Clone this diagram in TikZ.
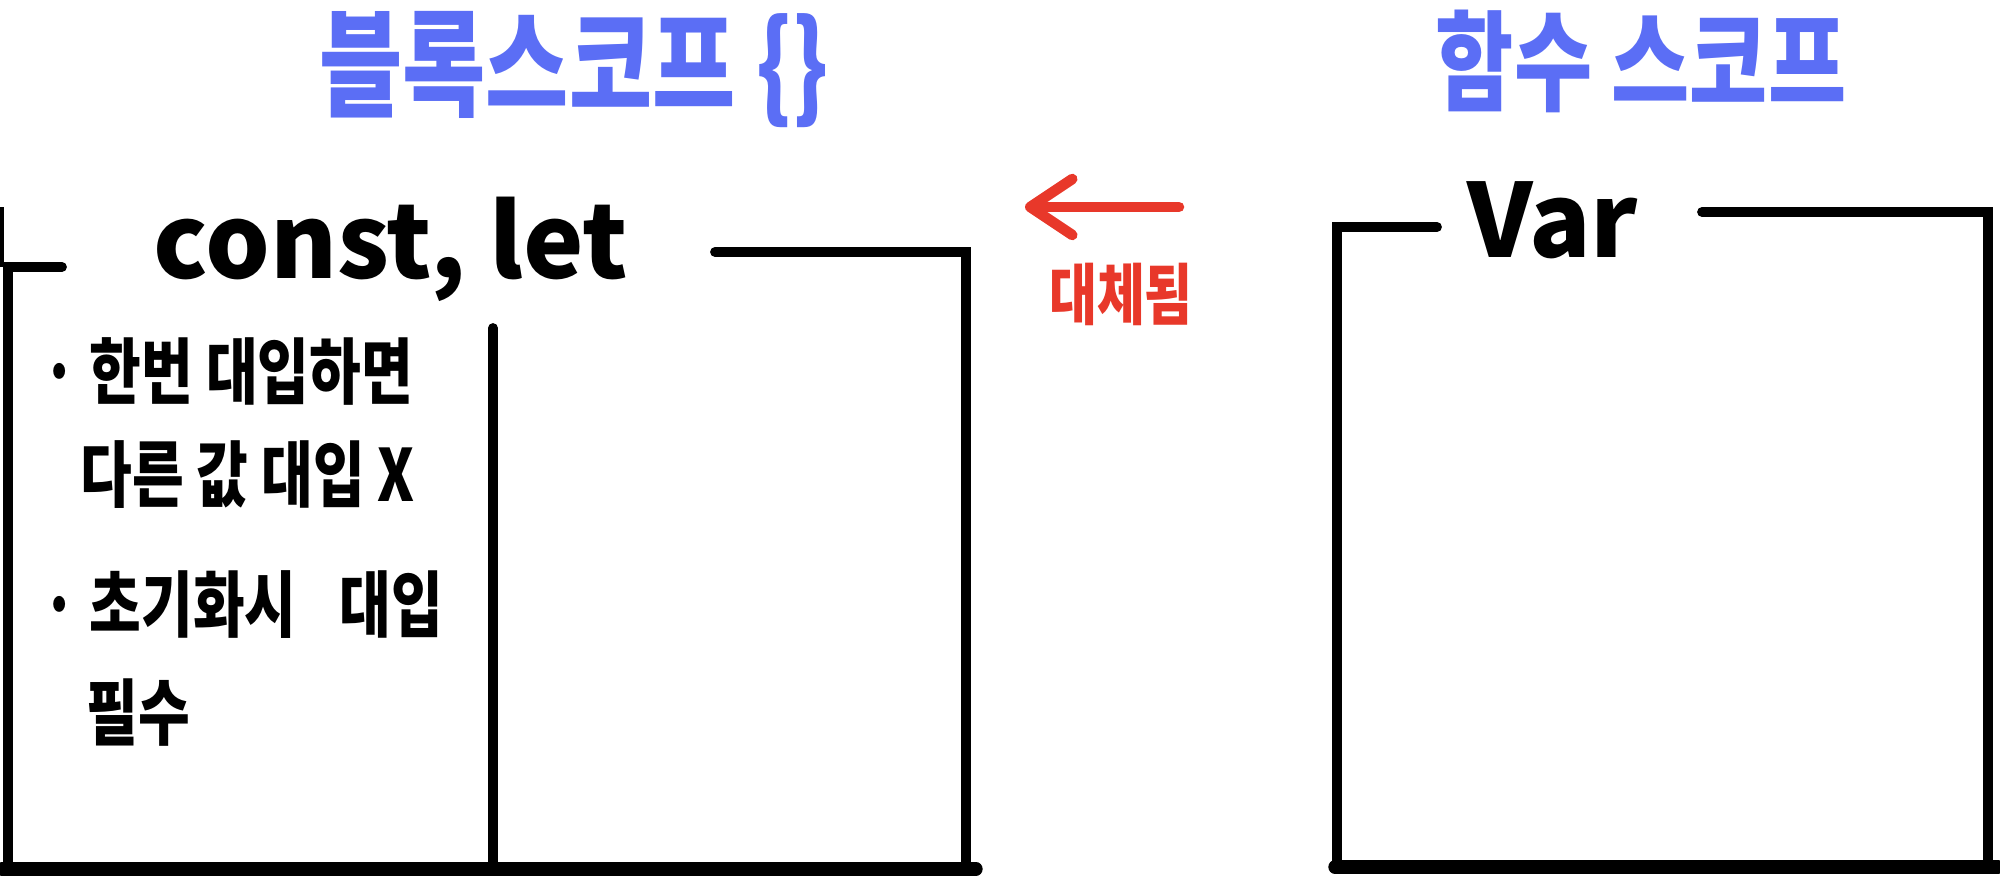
\documentclass[tikz,border=0pt]{standalone}
\usepackage{fontspec}
\usepackage{xcolor}
\usepackage{tikz}
\usetikzlibrary{positioning, arrows.meta}

\setmainfont{Noto Sans CJK KR}
\newfontfamily\hand{Noto Sans CJK KR}[FakeStretch=0.78]

\definecolor{titleblue}{HTML}{5B6EF5}
\definecolor{markred}{HTML}{E8382A}

\begin{document}
\begin{tikzpicture}[
    boxline/.style={line width=2.8pt, line cap=round, line join=miter},
    floor/.style={line width=3.8pt, line cap=round},
    scopetitle/.style={text=titleblue, font=\hand\bfseries\fontsize{33}{40}\selectfont, inner sep=0pt},
    keyword/.style={font=\bfseries\fontsize{29}{34}\selectfont, inner sep=0pt, anchor=base},
    note/.style={font=\hand\bfseries\fontsize{20.5}{24}\selectfont, inner sep=0pt, anchor=west},
    replacearrow/.style={markred, line width=3pt, line cap=round,
      -{Straight Barb[length=4.2mm, width=5.6mm, round]}}
  ]
      \useasboundingbox (0, 0) rectangle (20, 8.79);

      % titles
      \node[scopetitle] (blockTitle) at (5.74, 8.09) {블록스코프 \{\}};
      \node[scopetitle, font=\hand\bfseries\fontsize{31}{36}\selectfont] (funcTitle) at (16.41, 8.18) {함수 스코프};

      % block scope box
      \node[keyword] (constLet) at (3.91, 6.01) {const, let};
      \draw[line width=1pt] (0.02, 6.12) -- (0.02, 6.72);
      \draw[boxline] (0.62, 6.12) -- (0.08, 6.12) -- (0.08, 0.10);
      \draw[boxline] (7.15, 6.27) -- (9.66, 6.27) -- (9.66, 0.10);
      \draw[boxline] (4.93, 5.51) -- (4.93, 0.10);
      \draw[floor] (0.02, 0.10) -- (9.76, 0.10);

      \node[note] (ruleOne) at (0.42, 5.08) {· 한번 대입하면};
      \node[note] (ruleOneB) at (0.80, 4.04) {다른 값 대입 X};
      \node[note] (ruleTwo) at (0.42, 2.74) {· 초기화시\hspace{0.6em}대입};
      \node[note] (ruleTwoB) at (0.86, 1.66) {필수};

      % function scope box
      \node[keyword] (varKw) at (15.53, 6.22) {Var};
      \draw[boxline] (14.37, 6.52) -- (13.37, 6.52) -- (13.37, 0.12);
      \draw[boxline] (17.02, 6.67) -- (19.88, 6.67) -- (19.88, 0.12);
      \draw[floor] (13.35, 0.12) -- (19.98, 0.12);

      % replaced by
      \coordinate (replaceStart) at (11.79, 6.72);
      \coordinate (replaceEnd) at (10.25, 6.72);
      \draw[replacearrow] (replaceStart) -- (replaceEnd);
      \node[text=markred, font=\hand\bfseries\fontsize{19}{23}\selectfont] (replaced) at (11.21, 5.85) {대체됨};
    \end{tikzpicture}
\end{document}
